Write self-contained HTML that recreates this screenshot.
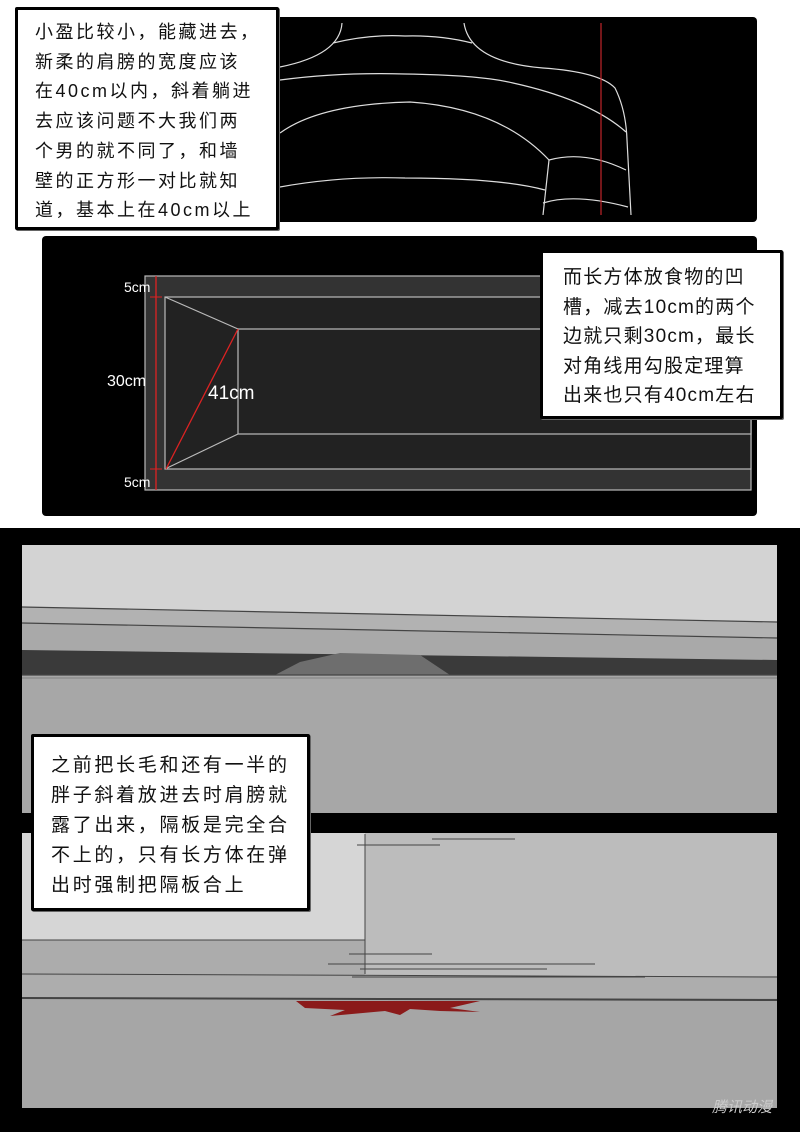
<!DOCTYPE html>
<html><head><meta charset="utf-8"><style>
body{margin:0;width:800px;height:1132px;background:#fff;position:relative;overflow:hidden;font-family:"Liberation Sans","Noto Sans CJK SC","WenQuanYi Zen Hei",sans-serif}
.box{position:absolute;background:#fff;border:3px solid #000;border-radius:2px;box-sizing:border-box;box-shadow:1px 1px 0 #666}
.box div{position:absolute;white-space:nowrap;color:#111}
</style></head><body>
<svg width="800" height="1132" style="position:absolute;left:0;top:0">
<defs><clipPath id="c1"><rect x="276" y="23" width="475" height="192"/></clipPath></defs>
<!-- panel 1 -->
<rect x="276" y="17" width="481" height="205" rx="4" fill="#000"/>
<g fill="none" stroke="#ddd" stroke-width="1.2" clip-path="url(#c1)">
<path d="M342 23 Q340 55 280 67"/>
<path d="M464 23 Q470 62 543 68 Q600 72 615 88 Q626 110 627 140 L631 215"/>
<path d="M333 43 Q370 34 405 36 Q440 35 472 43"/>
<path d="M280 80 Q340 72 405 74 Q480 75 513 83 Q590 100 626 132"/>
<path d="M280 133 Q320 104 410 102 Q500 108 549 160"/>
<path d="M549 160 L543 215"/>
<path d="M549 160 Q585 150 626 170"/>
<path d="M543 203 Q575 193 628 207"/>
<path d="M280 187 Q340 176 405 178 Q500 178 545 190"/>
</g>
<line x1="601" y1="23" x2="601" y2="215" stroke="#c0262a" stroke-width="1.2"/>
<!-- panel 2 -->
<rect x="42" y="236" width="715" height="280" rx="4" fill="#000"/>
<rect x="145" y="276" width="606" height="214" fill="#333" stroke="#bbb" stroke-width="1.2"/>
<rect x="165" y="297" width="586" height="172" fill="#222" stroke="#bbb" stroke-width="1.2"/>
<rect x="238" y="329" width="513" height="105" fill="#222" stroke="#bbb" stroke-width="1.2"/>
<line x1="165" y1="297" x2="238" y2="329" stroke="#bbb" stroke-width="1.2"/>
<line x1="165" y1="469" x2="238" y2="434" stroke="#bbb" stroke-width="1.2"/>
<line x1="166" y1="469" x2="238" y2="329" stroke="#d22" stroke-width="1.3"/>
<line x1="156" y1="276" x2="156" y2="490" stroke="#d22" stroke-width="1.3"/>
<line x1="150" y1="297" x2="162" y2="297" stroke="#d22"/>
<line x1="150" y1="469" x2="162" y2="469" stroke="#d22"/>
<g fill="#fff" font-family="Liberation Sans, sans-serif" font-size="14">
<text x="124" y="292">5cm</text><text x="107" y="386" font-size="16">30cm</text><text x="124" y="487">5cm</text>
<text x="208" y="399" font-size="19">41cm</text></g>
<!-- bottom -->
<rect x="0" y="528" width="800" height="604" fill="#000"/>
<rect x="22" y="545" width="755" height="268" fill="#d3d3d3"/>
<polygon points="22,607 777,622 777,813 22,813" fill="#b2b2b2"/>
<polygon points="22,623 777,638 777,813 22,813" fill="#a9a9a9"/>
<polygon points="22,650 777,660 777,813 22,813" fill="#3a3a3a"/>
<polygon points="275,675 300,662 340,653 420,655 450,675" fill="#6e6e6e"/>
<rect x="22" y="675" width="755" height="138" fill="#a7a7a7"/>
<g stroke="#444" stroke-width="1.2"><line x1="22" y1="607" x2="777" y2="622"/><line x1="22" y1="623" x2="777" y2="638"/><line x1="22" y1="675" x2="777" y2="675"/><line x1="22" y1="678" x2="777" y2="678" stroke="#888"/></g>
<rect x="22" y="833" width="755" height="275" fill="#a6a6a6"/>
<rect x="22" y="833" width="343" height="107" fill="#d6d6d6"/>
<rect x="365" y="833" width="412" height="143" fill="#bcbcbc"/>
<rect x="22" y="940" width="343" height="36" fill="#acacac"/>
<rect x="22" y="976" width="755" height="22" fill="#adadad"/>
<g stroke="#444" stroke-width="1"><line x1="365" y1="834" x2="365" y2="974"/><line x1="22" y1="940" x2="365" y2="940"/><line x1="22" y1="974" x2="777" y2="977"/><line x1="22" y1="998" x2="777" y2="1000" stroke-width="2"/>
<line x1="357" y1="845" x2="440" y2="845"/><line x1="432" y1="839" x2="515" y2="839"/><line x1="349" y1="954" x2="432" y2="954"/><line x1="328" y1="964" x2="595" y2="964"/><line x1="360" y1="969" x2="547" y2="969"/><line x1="352" y1="977" x2="645" y2="977"/></g>
<path d="M296 1001 L480 1001 L450 1008 L480 1012 L440 1011 L410 1009 L400 1015 L385 1011 L330 1016 L345 1010 L305 1008 Z" fill="#8b1a1a"/>
<text x="712" y="1112" font-size="15" fill="#ccc" font-style="italic" font-family="Noto Sans CJK SC, sans-serif">腾讯动漫</text>
</svg>
<div class="box" style="left:15px;top:7px;width:264px;height:223px;font-size:18px;letter-spacing:2.5px;line-height:29.7px">
<div style="left:17px;top:8px">小盈比较小，能藏进去，<br>新柔的肩膀的宽度应该<br>在40cm以内，斜着躺进<br>去应该问题不大我们两<br>个男的就不同了，和墙<br>壁的正方形一对比就知<br>道，基本上在40cm以上</div></div>
<div class="box" style="left:540px;top:250px;width:243px;height:169px;font-size:19px;letter-spacing:1.2px;line-height:29.5px">
<div style="left:20px;top:10px">而长方体放食物的凹<br>槽，减去10cm的两个<br>边就只剩30cm，最长<br>对角线用勾股定理算<br>出来也只有40cm左右</div></div>
<div class="box" style="left:31px;top:734px;width:279px;height:177px;font-size:19px;letter-spacing:2.7px;line-height:30px">
<div style="left:17px;top:14px">之前把长毛和还有一半的<br>胖子斜着放进去时肩膀就<br>露了出来，隔板是完全合<br>不上的，只有长方体在弹<br>出时强制把隔板合上</div></div>
</body></html>
